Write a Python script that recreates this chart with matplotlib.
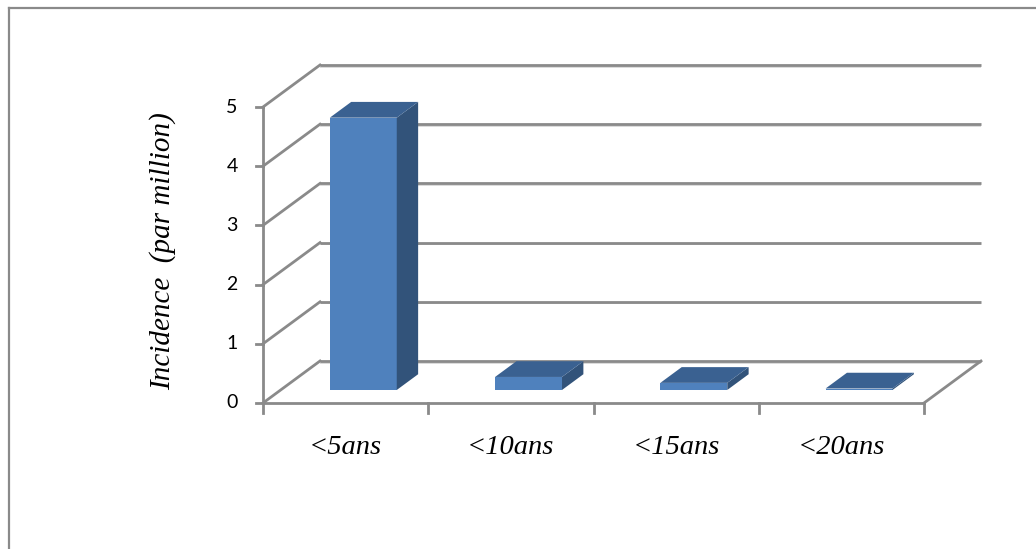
import matplotlib
matplotlib.use("Agg")
import matplotlib.pyplot as plt
from matplotlib.patches import Polygon
from matplotlib.lines import Line2D

categories = ["<5ans", "<10ans", "<15ans", "<20ans"]
values = [4.6, 0.22, 0.12, 0.025]
y_ticks = [0, 1, 2, 3, 4, 5]
y_label = "Incidence  (par million)"

W, H = 1036, 549
fig = plt.figure(figsize=(W / 100, H / 100), dpi=100)
# front plane of the 3D box: x 263..924 px, y 403..107 px
ax = fig.add_axes([263 / W, (H - 403) / H, 661 / W, 296 / H])
ax.set_xlim(0, len(categories))
ax.set_ylim(0, 5)
ax.axis("off")

# oblique depth offset in data units
DX = 57 / (661 / 4)
DY = 42 / (296 / 5)
F0, F1 = 0.31, 0.685
BW = 0.405

grid_c = "#8A8A8A"
shadow_c = "#D4D4D4"
lw = 2.0
n = len(categories)
px_y = 5 / 296

# back wall gridlines and left wall diagonals
for v in y_ticks:
    ax.plot([DX, n + DX], [v + DY - 1.6 * px_y, v + DY - 1.6 * px_y], color=shadow_c, lw=1.2,
            clip_on=False, solid_capstyle="butt", zorder=1)
    ax.plot([DX, n + DX], [v + DY, v + DY], color=grid_c, lw=lw, clip_on=False,
            solid_capstyle="butt", zorder=1)
    ax.plot([0, DX], [v, v + DY], color=grid_c, lw=lw, clip_on=False, zorder=1)
    # y tick marks
    ax.plot([-7 / 165.25, 0], [v, v], color=grid_c, lw=lw, clip_on=False, zorder=3)
    ax.text(-0.188, v, str(v), ha="center", va="center", fontsize=14,
            family="Lato", color="#000000")

# floor front and right edges, front vertical axis
ax.plot([0, n], [0, 0], color=grid_c, lw=lw, clip_on=False, zorder=3)
ax.plot([n, n + DX], [0, DY], color=grid_c, lw=lw, clip_on=False, zorder=3)
ax.plot([0, 0], [0, 5], color=grid_c, lw=lw, clip_on=False, zorder=3)
for i in range(n + 1):
    ax.plot([i, i], [0, -10 / 59.2], color=grid_c, lw=lw, clip_on=False, zorder=3)

front_c = "#4F81BD"
side_c = "#32537A"
top_c = "#3A6191"

for i, v in enumerate(values):
    c = i + 0.5
    xl = c - BW / 2 + F0 * DX
    xr = c + BW / 2 + F0 * DX
    y0 = F0 * DY
    ddx = (F1 - F0) * DX
    ddy = (F1 - F0) * DY
    front = Polygon([(xl, y0), (xr, y0), (xr, y0 + v), (xl, y0 + v)],
                    closed=True, fc=front_c, ec="none", zorder=5, clip_on=False)
    side = Polygon([(xr, y0), (xr + ddx, y0 + ddy), (xr + ddx, y0 + ddy + v), (xr, y0 + v)],
                   closed=True, fc=side_c, ec="none", zorder=5, clip_on=False)
    top = Polygon([(xl, y0 + v), (xr, y0 + v), (xr + ddx, y0 + v + ddy), (xl + ddx, y0 + v + ddy)],
                  closed=True, fc=top_c, ec="none", zorder=5, clip_on=False)
    for p in (front, side, top):
        ax.add_patch(p)
    ax.text(c, -45 / 59.2, categories[i], ha="center", va="center", fontsize=20.5,
            family="Liberation Serif", style="italic", color="#000000")

ax.text(-100 / 165.25, 152 / 59.2, y_label, rotation=90, ha="center", va="center",
        fontsize=21, family="Liberation Serif", style="italic", color="#000000")

# outer chart border (top and left visible)
fig.add_artist(Line2D([9 / W, 1.0], [1 - 7.5 / H, 1 - 7.5 / H], color=grid_c, lw=1.6))
fig.add_artist(Line2D([9 / W, 9 / W], [0, 1 - 7.5 / H], color=grid_c, lw=1.6))

fig.savefig("out.png", dpi=100)
